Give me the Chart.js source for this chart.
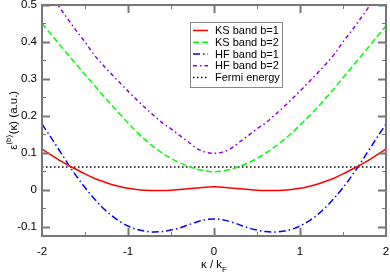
<!DOCTYPE html>
<html>
<head>
<meta charset="utf-8">
<script src="https://cdn.jsdelivr.net/npm/chart.js@4/dist/chart.umd.min.js"></script>
<style>
  html, body { margin: 0; padding: 0; background: #fff; }
  #wrap { width: 390px; height: 276px; }
</style>
</head>
<body>
<div id="wrap"><canvas id="chart" width="390" height="276"></canvas></div>
<script>
// kappa / k_F grid
const kappa = [-2.0,-1.9,-1.8,-1.7,-1.6,-1.5,-1.4,-1.3,-1.2,-1.1,-1.0,-0.9,-0.8,-0.7,-0.6,-0.5,-0.4,-0.3,-0.2,-0.1,
               0.0,0.1,0.2,0.3,0.4,0.5,0.6,0.7,0.8,0.9,1.0,1.1,1.2,1.3,1.4,1.5,1.6,1.7,1.8,1.9,2.0];

const ksBand1 = [0.111,0.095,0.080,0.067,0.055,0.043,0.032,0.023,0.015,0.009,0.004,0.001,-0.001,-0.002,-0.002,-0.001,0.001,0.003,0.005,0.007,
                 0.008,0.007,0.005,0.003,0.001,-0.001,-0.002,-0.002,-0.001,0.001,0.004,0.009,0.015,0.023,0.032,0.043,0.055,0.067,0.080,0.095,0.111];

const ksBand2 = [0.450,0.422,0.394,0.366,0.339,0.312,0.285,0.258,0.232,0.206,0.181,0.157,0.135,0.116,0.099,0.085,0.073,0.064,0.056,0.051,
                 0.049,0.051,0.056,0.064,0.073,0.085,0.099,0.115,0.133,0.153,0.175,0.198,0.222,0.248,0.275,0.303,0.331,0.359,0.387,0.416,0.443];

const hfBand1 = [0.178,0.143,0.107,0.071,0.037,0.006,-0.022,-0.047,-0.068,-0.085,-0.098,-0.107,-0.112,-0.114,-0.113,-0.109,-0.103,-0.095,-0.087,-0.081,
                 -0.079,-0.081,-0.087,-0.095,-0.103,-0.109,-0.113,-0.114,-0.112,-0.107,-0.098,-0.085,-0.068,-0.047,-0.022,0.006,0.037,0.071,0.107,0.143,0.178];

const hfBand2 = [0.565,0.530,0.495,0.462,0.430,0.400,0.367,0.340,0.315,0.291,0.267,0.244,0.222,0.201,0.181,0.165,0.147,0.130,0.112,0.102,
                 0.099,0.102,0.112,0.130,0.147,0.165,0.181,0.201,0.222,0.244,0.267,0.291,0.315,0.340,0.367,0.400,0.430,0.462,0.495,0.530,0.565];

const fermiEnergy = 0.062;
const fermiX = [-2, 2];

const labels = ['KS band b=1', 'KS band b=2', 'HF band b=1', 'HF band b=2', 'Fermi energy'];
const xTicks = [-2, -1, 0, 1, 2];
const xMinor = [-1.5, -0.5, 0.5, 1.5];
const yTicks = [-0.1, 0, 0.1, 0.2, 0.3, 0.4, 0.5];
const yMinor = [-0.05, 0.05, 0.15, 0.25, 0.35, 0.45];

const FONT = '"Liberation Sans", Arial, sans-serif';
const FRAME = '#777';

function pts(ys) {
    return kappa.map((k, i) => ({x: k, y: ys[i]}));
}

function noPad(s) {
    s.paddingLeft = 0; s.paddingRight = 0;
    s.paddingTop = 0; s.paddingBottom = 0;
}

// inward ticks + full frame
const framePlugin = {
    id: 'frame',
    afterDatasetsDraw(chart) {
        const {ctx, chartArea: a, scales: {x, y}} = chart;
        ctx.save();
        ctx.strokeStyle = FRAME;
        const tick = (vals, len) => {
            vals.forEach(v => {
                const px = Math.round(x.getPixelForValue(v)) + 0.5;
                ctx.beginPath();
                ctx.moveTo(px, a.bottom); ctx.lineTo(px, a.bottom - len);
                ctx.moveTo(px, a.top); ctx.lineTo(px, a.top + len);
                ctx.stroke();
            });
        };
        const tickY = (vals, len) => {
            vals.forEach(v => {
                const py = Math.round(y.getPixelForValue(v)) + 0.5;
                ctx.beginPath();
                ctx.moveTo(a.left, py); ctx.lineTo(a.left + len, py);
                ctx.moveTo(a.right, py); ctx.lineTo(a.right - len, py);
                ctx.stroke();
            });
        };
        ctx.lineWidth = 2;
        tick(xTicks.slice(1, -1), 8);
        tickY(yTicks, 8);
        ctx.lineWidth = 1;
        tick(xMinor, 4);
        tickY(yMinor, 4);
        ctx.lineWidth = 2;
        ctx.strokeRect(a.left, a.top, a.right - a.left, a.bottom - a.top);
        ctx.restore();
    },
    afterDraw(chart) {
        const {ctx, chartArea: a} = chart;
        ctx.save();
        // legend box
        const bx = a.left + 148, by = a.top + 17, bw = 92, bh = 65;
        ctx.fillStyle = '#fff';
        ctx.fillRect(bx, by, bw, bh);
        ctx.strokeStyle = '#888';
        ctx.lineWidth = 1;
        ctx.strokeRect(bx + 0.5, by + 0.5, bw, bh);
        ctx.font = '11px ' + FONT;
        ctx.textBaseline = 'middle';
        chart.data.datasets.forEach((ds, i) => {
            const cy = by + 8.5 + i * 11.75;
            ctx.strokeStyle = ds.borderColor;
            ctx.lineWidth = ds.borderWidth;
            ctx.setLineDash(ds.borderDash || []);
            ctx.beginPath();
            ctx.moveTo(bx + 3, cy); ctx.lineTo(bx + 18, cy);
            ctx.stroke();
            ctx.setLineDash([]);
            ctx.fillStyle = '#000';
            ctx.fillText(ds.label, bx + 25, cy + 0.5);
        });

        // x title: kappa / k_F
        ctx.fillStyle = '#000';
        ctx.textBaseline = 'alphabetic';
        const main = 'κ / k';
        ctx.font = '8px ' + FONT;
        const subW = ctx.measureText('F').width;
        ctx.font = '11.5px ' + FONT;
        const mw = ctx.measureText(main).width;
        const cx = (a.left + a.right) / 2;
        const sx = cx - (mw + subW) / 2;
        ctx.fillText(main, sx, 267.5);
        ctx.font = '8px ' + FONT;
        ctx.fillText('F', sx + mw, 271.5);

        // y title: eps^(b)(kappa) (a.u.)
        ctx.translate(17, (a.top + a.bottom) / 2);
        ctx.rotate(-Math.PI / 2);
        ctx.font = '11.5px ' + FONT;
        const p1 = 'ε', p3 = '(κ) (a.u.)';
        const w1 = ctx.measureText(p1).width, w3 = ctx.measureText(p3).width;
        ctx.font = '8px ' + FONT;
        const w2 = ctx.measureText('(b)').width;
        const tx = -(w1 + w2 + w3) / 2;
        ctx.font = '11.5px ' + FONT;
        ctx.fillText(p1, tx, 0);
        ctx.font = '8px ' + FONT;
        ctx.fillText('(b)', tx + w1, -6);
        ctx.font = '11.5px ' + FONT;
        ctx.fillText(p3, tx + w1 + w2 + 0.5, 0);
        ctx.restore();
    }
};

const lineDefaults = {pointRadius: 0, fill: false, cubicInterpolationMode: 'monotone'};

new Chart(document.getElementById('chart').getContext('2d'), {
    type: 'line',
    data: {
        datasets: [
            {...lineDefaults, label: labels[0], data: pts(ksBand1), borderColor: '#ff0000', borderWidth: 1.5},
            {...lineDefaults, label: labels[1], data: pts(ksBand2), borderColor: '#00ff00', borderWidth: 1.5, borderDash: [6, 3]},
            {...lineDefaults, label: labels[2], data: pts(hfBand1), borderColor: '#0000ff', borderWidth: 1.5, borderDash: [7, 3, 1.5, 3]},
            {...lineDefaults, label: labels[3], data: pts(hfBand2), borderColor: '#9400d3', borderWidth: 1.5, borderDash: [4, 3, 1.5, 3]},
            {...lineDefaults, label: labels[4], data: fermiX.map(k => ({x: k, y: fermiEnergy})), borderColor: '#000', borderWidth: 1.5, borderDash: [1.5, 2.5]}
        ]
    },
    options: {
        responsive: false,
        animation: false,
        layout: {padding: {left: 12, right: 4, top: 5, bottom: 0}},
        plugins: {legend: {display: false}, tooltip: {enabled: false}},
        scales: {
            x: {
                type: 'linear', min: -2, max: 2,
                afterBuildTicks: s => { s.ticks = xTicks.map(v => ({value: v})); },
                afterFit: s => { s.height = 40; noPad(s); },
                grid: {display: false, drawTicks: false},
                border: {display: false},
                ticks: {color: '#000', padding: 9, maxRotation: 0, font: {family: FONT, size: 11.5}}
            },
            y: {
                min: -0.125, max: 0.5,
                afterBuildTicks: s => { s.ticks = yTicks.map(v => ({value: v})); },
                afterFit: s => { s.width = 30; noPad(s); },
                grid: {display: false, drawTicks: false},
                border: {display: false},
                ticks: {color: '#000', padding: 5, font: {family: FONT, size: 11.5},
                        callback: v => String(Math.round(v * 10) / 10)}
            }
        }
    },
    plugins: [framePlugin]
});
</script>
</body>
</html>
